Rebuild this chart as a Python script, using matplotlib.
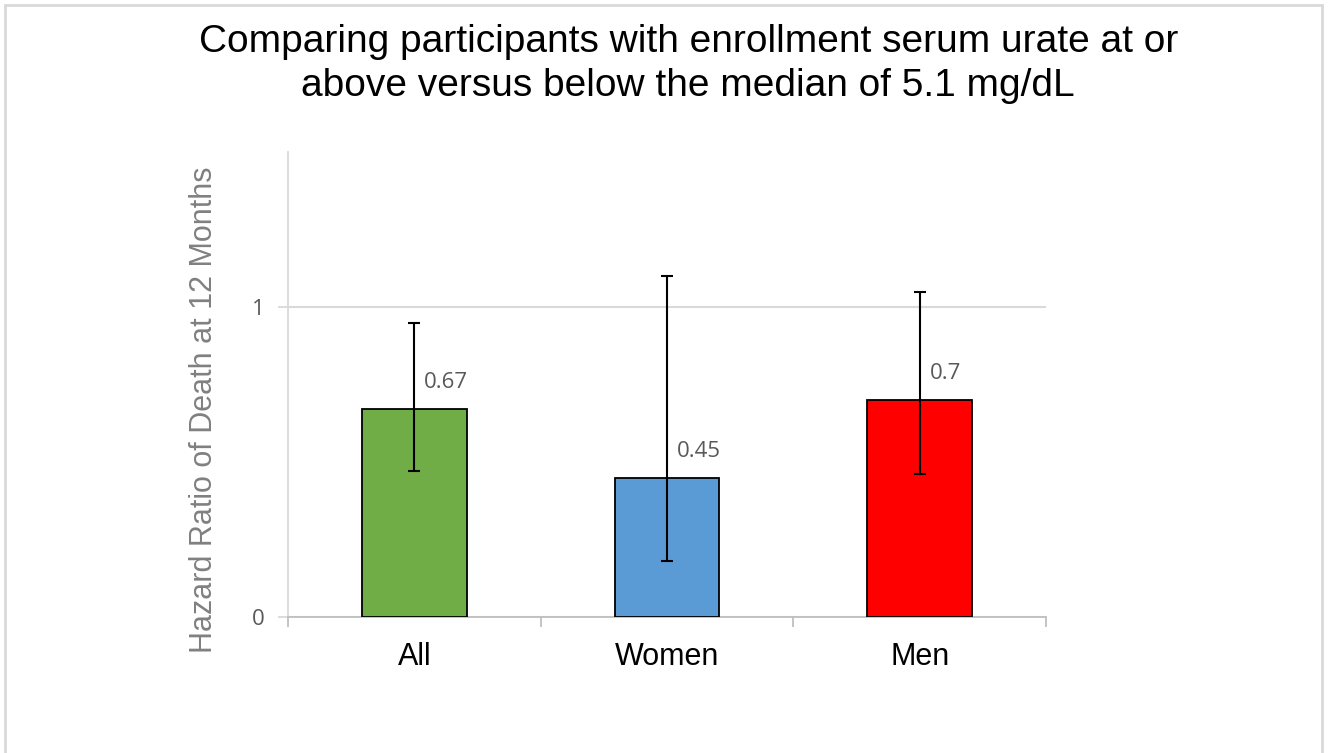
import numpy as np
import matplotlib.pyplot as plt
from matplotlib.patches import Rectangle

# Datos
categories = ['All', 'Women', 'Men']
hazard_ratios = [0.67, 0.45, 0.70]
ci_low = [0.47, 0.18, 0.46]
ci_high = [0.95, 1.10, 1.05]
bar_colors = ['#70AD47', '#5B9BD5', '#FF0000']
value_labels = ['0.67', '0.45', '0.7']

title = 'Comparing participants with enrollment serum urate at or\nabove versus below the median of 5.1 mg/dL'
y_label = 'Hazard Ratio of Death at 12 Months'

fig = plt.figure(figsize=(13.3, 7.53), dpi=100)
ax = fig.add_axes([0.2165, 0.1806, 0.57, 0.6174])

# Marco gris alrededor de la figura
fig.patches.append(Rectangle((0.004, -0.01), 0.99, 1.0033, transform=fig.transFigure,
                             fill=False, edgecolor='#D9D9D9', linewidth=2))

x = np.arange(len(categories))
err = [np.array(hazard_ratios) - np.array(ci_low), np.array(ci_high) - np.array(hazard_ratios)]
ax.bar(x, hazard_ratios, width=0.415, color=bar_colors, edgecolor='black', linewidth=1.3, zorder=3)
ax.errorbar(x, hazard_ratios, yerr=err, fmt='none', ecolor='black', elinewidth=1.5,
            capsize=4.5, capthick=1.5, zorder=4)

for xi, v, lab in zip(x, hazard_ratios, value_labels):
    ax.annotate(lab, (xi, v), xytext=(7, 19), textcoords='offset points',
                ha='left', va='center', fontsize=16, color='#595959', family='Open Sans', zorder=5)

ax.set_xlim(-0.5, 2.5)
ax.set_ylim(0, 1.5)
ax.set_yticks([0, 1])
ax.set_yticklabels(['0', '1'], fontsize=16, color='#595959', family='Open Sans')
ax.yaxis.grid(True, color='#D9D9D9', linewidth=1.5, zorder=0)
ax.set_axisbelow(True)

ax.set_xticks(x)
ax.set_xticklabels(categories, fontsize=22, family='Liberation Sans')
ax.set_xticks([-0.5, 0.5, 1.5, 2.5], minor=True)
ax.tick_params(axis='x', which='major', length=0, pad=18)
ax.tick_params(axis='x', which='minor', length=7, color='#BFBFBF', width=1.3)
ax.tick_params(axis='y', length=7, color='#D9D9D9', width=1.3, pad=10)

for s in ['top', 'right']:
    ax.spines[s].set_visible(False)
ax.spines['bottom'].set_color('#BFBFBF')
ax.spines['bottom'].set_linewidth(1.3)
ax.spines['left'].set_color('#D9D9D9')
ax.spines['left'].set_linewidth(1.3)

ax.set_ylabel(y_label, fontsize=22, color='#808080', family='Liberation Sans')
ax.yaxis.set_label_coords(-0.091, 0.445)

fig.text(0.5175, 0.915, title, ha='center', va='center', fontsize=28,
         family='Liberation Sans', linespacing=1.32)

fig.savefig('out.png', dpi=100)
